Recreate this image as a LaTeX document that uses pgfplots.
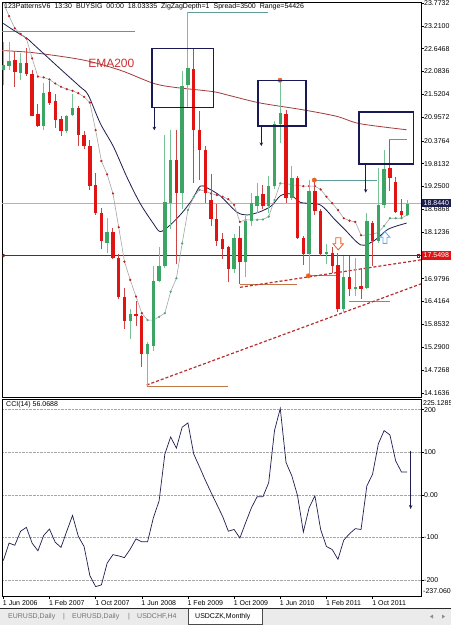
\documentclass[border=0pt]{standalone}
\usepackage{pgfplots}
\pgfplotsset{compat=1.18}
\usepackage{pgfplotstable}
\usepackage{fontspec}
\setmainfont{Liberation Sans}
\usetikzlibrary{arrows.meta}
\definecolor{upc}{RGB}{60,165,100}
\definecolor{upw}{RGB}{120,195,150}
\definecolor{dnc}{RGB}{225,20,20}
\definecolor{dnw}{RGB}{205,70,70}
\definecolor{ema}{RGB}{160,60,60}
\definecolor{emat}{RGB}{205,50,50}
\definecolor{navyl}{RGB}{30,30,80}
\definecolor{boxc}{RGB}{25,25,85}
\definecolor{trend}{RGB}{185,45,45}
\definecolor{hline}{RGB}{140,25,25}
\definecolor{orl}{RGB}{190,120,70}
\definecolor{tealc}{RGB}{95,155,155}
\definecolor{dotr}{RGB}{190,30,30}
\definecolor{dotg}{RGB}{70,170,110}
\definecolor{orng}{RGB}{240,95,30}
\definecolor{lblue}{RGB}{100,170,230}
\newcommand\tf{\fontsize{7bp}{8bp}\selectfont}

\pgfplotstableread{
m O H L C
0 22.13 22.82 21.76 22.25
1 22.23 22.82 22.13 22.35
3 22.06 22.54 21.88 22.29
7 20.75 21.80 20.64 21.55
11 20.61 21.02 20.56 21.00
12 21.02 21.54 20.98 21.19
18 17.87 18.48 17.62 18.13
22 15.94 16.23 15.49 16.11
25 15.12 15.41 14.34 15.37
26 15.33 17.29 15.20 16.93
27 16.93 17.75 16.90 17.29
28 17.29 20.53 17.25 18.87
29 18.85 20.65 18.20 19.91
31 19.10 22.09 18.70 21.72
32 21.76 23.55 21.22 22.17
40 17.21 18.07 17.13 17.99
42 17.38 18.52 17.01 18.40
43 18.40 19.10 18.28 18.85
44 18.77 19.34 18.60 19.01
46 18.77 19.50 18.60 19.26
47 19.26 20.86 19.20 20.78
48 20.78 21.92 20.33 21.06
50 18.97 19.75 18.93 19.46
53 17.58 19.42 17.07 19.14
56 17.58 17.83 17.34 17.63
59 16.23 17.54 16.15 17.01
61 16.72 17.50 16.56 16.78
63 16.76 18.60 16.72 18.40
65 17.91 19.71 17.87 18.79
66 18.79 20.16 18.73 19.69
70 18.56 18.93 18.52 18.82
}\upcandles

\pgfplotstableread{
m O H L C
2 22.37 22.58 21.70 22.07
4 22.29 22.66 21.98 22.03
5 22.03 22.13 20.98 21.00
6 21.05 21.29 20.72 20.75
8 21.57 21.84 21.27 21.32
9 21.35 21.54 20.69 20.90
10 20.92 20.98 20.49 20.61
13 21.19 21.24 20.26 20.53
14 20.53 20.61 20.18 20.24
15 20.26 20.40 19.17 19.26
16 19.30 19.59 18.56 18.61
17 18.61 18.73 17.70 17.91
19 18.13 18.24 17.46 17.50
20 17.50 17.58 16.47 16.52
21 16.52 16.76 15.74 15.94
23 16.11 16.43 15.82 16.05
24 16.05 16.08 14.80 15.12
30 19.91 20.65 17.35 19.10
33 22.14 22.66 19.35 20.65
34 20.65 21.10 19.42 20.16
35 20.16 20.24 18.85 19.10
36 18.93 19.55 18.28 18.44
37 18.46 18.81 17.78 17.91
38 17.97 18.11 17.46 17.70
39 17.75 17.78 16.89 17.21
41 17.99 18.28 16.84 17.38
45 19.06 19.30 18.69 18.77
49 21.04 21.13 18.85 18.97
51 19.46 19.50 17.95 17.99
52 17.99 18.03 17.32 17.58
54 19.14 19.42 18.56 18.64
55 18.64 18.69 17.54 17.58
57 17.62 17.75 17.11 17.29
58 17.32 17.62 16.15 16.23
60 17.01 17.54 16.56 16.72
62 16.79 17.25 16.48 16.73
64 18.36 18.40 17.29 17.91
67 19.71 20.41 19.14 19.46
68 19.36 19.49 18.60 18.62
69 18.64 18.95 18.48 18.54
}\dncandles

\begin{document}
\begin{tikzpicture}
\path[use as bounding box, fill=white] (0,0) rectangle (451bp,-625bp);

% ================= MAIN PRICE PANEL =================
\begin{axis}[
  at={(2bp,-2bp)}, anchor=north west, scale only axis,
  width=419bp, height=395bp,
  xmin=-0.225, xmax=72.39, ymin=14.065, ymax=23.798,
  axis line style={line width=0.8bp, black},
  xtick=\empty,
  ytick={23.7732,23.21,22.6468,22.0836,21.5204,20.9572,20.3764,19.8132,19.25,18.6868,18.1236,16.9796,16.4164,15.8532,15.29,14.7268,14.1636},
  yticklabels={23.7732,23.2100,22.6468,22.0836,21.5204,20.9572,20.3764,19.8132,19.2500,18.6868,18.1236,16.9796,16.4164,15.8532,15.2900,14.7268,14.1636},
  ytick pos=right, yticklabel pos=right,
  tick align=outside, major tick length=3bp,
  tick style={black, line width=0.5bp},
  yticklabel style={font=\tf, anchor=west, inner sep=0pt, xshift=0bp, text=black},
  clip mode=individual,
]
% horizontal reference lines
\addplot[black!30, line width=0.8bp] coordinates {(-0.225,18.844) (72.39,18.844)};
\addplot[hline, line width=0.9bp] coordinates {(-0.225,17.5498) (72.39,17.5498)};
% brown horizontal levels
\addplot[orl, line width=0.9bp] coordinates {(-0.3,23.083) (22.8,23.083)};
\addplot[orl, line width=0.9bp] coordinates {(24.85,14.336) (39.0,14.336)};
\addplot[orl, line width=0.9bp] coordinates {(41.0,16.85) (50.95,16.85)};
\addplot[orl, line width=0.9bp] coordinates {(52.86,17.05) (57.83,17.05)};
\addplot[orl, line width=0.9bp] coordinates {(59.96,16.42) (67.0,16.42)};
% dashed trend lines
\addplot[trend, line width=1.2bp, dash pattern=on 3bp off 2bp] coordinates {(41.02,16.768) (72.39,17.445)};
\addplot[trend, line width=1.2bp, dash pattern=on 3bp off 2bp] coordinates {(24.85,14.361) (72.39,16.853)};
% teal pattern lines
\addplot[tealc, line width=0.8bp] coordinates {(32.0,23.55) (45.9,23.55)};
\addplot[tealc, line width=0.8bp] coordinates {(54.0,19.40) (64.75,19.40)};
\addplot[tealc, line width=0.8bp] coordinates {(66.9,20.41) (69.9,20.41)};

% EMA200
\addplot[ema, line width=0.8bp, smooth] coordinates {
(-0.2,22.60) (5.15,22.55) (13.8,22.37) (20.2,22.12) (25.9,21.80) (29.4,21.70)
(36.3,21.59) (39.3,21.49) (44.5,21.31) (52,21.14) (57.8,20.98) (61.8,20.80) (69.9,20.65)};
% slow MA (navy)
\addplot[navyl, line width=0.8bp, smooth] coordinates {
(0,23.27) (1.7,23.11) (4.1,22.90) (5.2,22.76) (9.8,22.16) (13.3,21.71) (14.7,21.51)
(16.8,20.81) (19.1,20.23) (21.4,19.49) (23.7,18.84) (26.0,18.34) (27.2,18.14) (28.9,18.30)
(30.9,18.59) (32.7,18.92) (34.1,19.26) (35.3,19.22) (37.6,19.02) (40.4,18.63) (42.2,18.55)
(44.5,18.63) (46.5,18.78) (48.0,19.02) (49.7,19.07) (51.5,18.86) (54.9,18.80) (57.5,18.43)
(59.2,18.19) (62.0,17.81) (64.4,17.93) (66.7,18.20) (69.9,18.35)};
% fast line (gray)
\addplot[black!35, line width=0.6bp] coordinates {
(0,23.78) (1,23.45) (2,23.15) (3,23.01) (4,22.90) (5,22.41) (6,21.96) (7,21.94) (8,21.89)
(9,21.79) (10,21.71) (11,21.65) (12,21.61) (13,21.55) (14,21.46) (15,21.32) (16,20.64)
(17,19.88) (18,19.55) (19,19.08) (20,18.25) (21,17.40) (22,16.95) (23,16.54) (24,16.13)
(25,15.96) (26,15.96) (27,16.04) (28,16.13) (29,16.66) (30,16.99) (31,17.85) (32,18.67)
(33,19.00) (34,19.17) (35,19.14) (36,19.08) (37,19.04) (38,19.00) (39,18.94) (40,18.80)
(41,18.38) (42,18.43) (43,18.43) (44,18.43) (45,18.44) (46,18.51) (47,18.92) (48,19.33)
(49,19.33) (50,19.29) (51,19.28) (52,19.26) (53,19.26) (54,19.26) (55,19.18) (56,19.00)
(57,18.84) (58,18.67) (59,18.47) (60,18.41) (61,18.38) (62,18.05) (63,18.05) (64,18.08)
(65,18.12) (66,18.28) (67,18.47) (68,18.47) (69,18.47) (70,18.55)};
\addplot[only marks, mark=*, mark size=0.9bp, dotr] coordinates {
(1,23.45) (2,23.15) (3,23.01) (4,22.90) (5,22.41) (6,21.96) (7,21.94) (8,21.89)
(9,21.79) (10,21.71) (11,21.65) (12,21.61) (13,21.55) (14,21.46) (15,21.32) (16,20.64)
(17,19.88) (18,19.55) (19,19.08) (20,18.25) (21,17.40) (22,16.95) (23,16.54) (24,16.13)
(35,19.14) (36,19.08) (37,19.04) (38,19.00) (39,18.94) (40,18.80) (41,18.38)
(49,19.33) (50,19.29) (51,19.28) (52,19.26) (53,19.26) (54,19.26) (55,19.18) (56,19.00)
(57,18.84) (58,18.67) (59,18.47) (60,18.41) (61,18.38) (62,18.05) (63,18.05) (64,18.08)};
\addplot[only marks, mark=*, mark size=0.9bp, dotg] coordinates {
(25,15.96) (26,15.96) (27,16.04) (28,16.13) (29,16.66) (30,16.99) (31,17.85) (32,18.67)
(33,19.00) (34,19.17) (42,18.43) (43,18.43) (44,18.43) (45,18.44) (46,18.51) (47,18.92) (48,19.33)
(65,18.12) (66,18.28) (67,18.47) (68,18.47) (69,18.47) (70,18.55)};

% candles: wicks
\addplot[draw=none, mark=none, forget plot,
  error bars/.cd, y dir=plus, y explicit, error mark=none,
  error bar style={draw=upw, line width=1bp}]
  table[x=m, y=L, y error expr=\thisrow{H}-\thisrow{L}] {\upcandles};
\addplot[draw=none, mark=none, forget plot,
  error bars/.cd, y dir=plus, y explicit, error mark=none,
  error bar style={draw=dnw, line width=1bp}]
  table[x=m, y=L, y error expr=\thisrow{H}-\thisrow{L}] {\dncandles};
% candles: bodies
\addplot[draw=none, mark=none, forget plot,
  error bars/.cd, y dir=plus, y explicit, error mark=none,
  error bar style={draw=upc, line width=3.4bp}]
  table[x=m, y=O, y error expr=\thisrow{C}-\thisrow{O}] {\upcandles};
\addplot[draw=none, mark=none, forget plot,
  error bars/.cd, y dir=plus, y explicit, error mark=none,
  error bar style={draw=dnc, line width=3.4bp}]
  table[x=m, y=C, y error expr=\thisrow{O}-\thisrow{C}] {\dncandles};

% orange pivot dots
\addplot[only marks, mark=*, mark size=2.2bp, orng] coordinates {(47.96,21.87) (53.9,19.41) (52.86,17.05)};

% pattern boxes and arrows
\draw[boxc, line width=1.6bp] (axis cs:25.72,22.657) rectangle (axis cs:36.4,21.194);
\draw[boxc, line width=1.1bp, -{Stealth[length=3.5bp,width=3.5bp]}] (axis cs:26.17,21.194) -- (axis cs:26.17,20.64);
\draw[boxc, line width=1.6bp] (axis cs:44.19,21.859) rectangle (axis cs:52.41,20.743);
\draw[boxc, line width=1.1bp, -{Stealth[length=3.5bp,width=3.5bp]}] (axis cs:44.71,20.743) -- (axis cs:44.71,20.25);
\draw[boxc, line width=1.6bp] (axis cs:61.65,21.095) rectangle (axis cs:71.06,19.806);
\draw[boxc, line width=1.1bp, -{Stealth[length=3.5bp,width=3.5bp]}] (axis cs:62.81,19.806) -- (axis cs:62.81,19.10);

% hollow arrows
\draw[orng, line width=0.8bp, fill=white] (axis cs:57.6,17.99) -- (axis cs:58.5,17.99) -- (axis cs:58.5,17.84) -- (axis cs:58.95,17.84) -- (axis cs:58.05,17.69) -- (axis cs:57.15,17.84) -- (axis cs:57.6,17.84) -- cycle;
\draw[lblue, line width=0.8bp, fill=white] (axis cs:65.8,17.85) -- (axis cs:66.5,17.85) -- (axis cs:66.5,18.0) -- (axis cs:67.0,18.0) -- (axis cs:66.15,18.14) -- (axis cs:65.3,18.0) -- (axis cs:65.8,18.0) -- cycle;

% end markers on red level
\draw[hline, line width=0.6bp] (axis cs:0.05,17.5498) circle (1.4bp);
\draw[hline, line width=0.6bp] (axis cs:71.9,17.5498) ++(-1.3bp,-1.3bp) rectangle ++(2.6bp,2.6bp);

% EMA200 label
\node[anchor=west, text=emat, font=\fontsize{12bp}{12bp}\selectfont, inner sep=0pt] at (axis cs:14.7,22.29) {EMA200};

% highlighted price labels
\node[anchor=west, fill=navyl, text=white, font=\tf, inner sep=0pt, minimum height=8.5bp, text width=30bp, align=left, xshift=0.5bp] at (axis cs:72.39,18.844) {\hspace{2bp}18.8440};
\node[anchor=west, fill=dnc, text=white, font=\tf, inner sep=0pt, minimum height=8.5bp, text width=30bp, align=left, xshift=0.5bp] at (axis cs:72.39,17.5498) {\hspace{2bp}17.5498};
\end{axis}

% ================= CCI PANEL =================
\begin{axis}[
  at={(2bp,-399bp)}, anchor=north west, scale only axis,
  width=419bp, height=197bp,
  xmin=-0.225, xmax=72.39, ymin=-237.06, ymax=225.1285,
  axis line style={line width=0.8bp, black},
  xtick={0,8,16,24,32,40,48,56,64},
  xticklabels={1 Jun 2006,1 Feb 2007,1 Oct 2007,1 Jun 2008,1 Feb 2009,1 Oct 2009,1 Jun 2010,1 Feb 2011,1 Oct 2011},
  xticklabel style={font=\tf, anchor=north west, inner sep=0pt, xshift=-0.5bp, yshift=-1.5bp},
  ytick={-200,-100,0,100,200}, yticklabels={-200,-100,0.00,100,200},
  ytick pos=right, yticklabel pos=right, xtick pos=bottom,
  tick align=outside, major tick length=3bp,
  tick style={black, line width=0.5bp},
  yticklabel style={font=\tf, anchor=west, inner sep=0pt, text=black},
  ymajorgrids, grid style={densely dotted, black!35, line width=0.5bp},
  clip mode=individual,
]
\addplot[navyl, line width=0.7bp] coordinates {
(0,-154) (1,-113) (2,-118) (3,-85) (4,-76) (5,-113) (6,-131) (7,-95) (8,-80) (9,-111)
(10,-123) (11,-85) (12,-48) (13,-97) (14,-121) (15,-189) (16,-215) (17,-211) (18,-160) (19,-140)
(20,-143) (21,-147) (22,-127) (23,-103) (24,-110) (25,-110) (26,-54) (27,-14) (28,96) (29,136)
(30,110) (31,159) (32,169) (33,96) (34,66) (35,35) (36,6) (37,-22) (38,-50) (39,-85)
(40,-81) (41,-101) (42,-65) (43,-30) (44,-4) (45,-4) (46,29) (47,151) (48,203) (49,76)
(50,45) (51,-2) (52,-87) (53,-30) (54,-2) (55,-81) (56,-121) (57,-128) (58,-151) (59,-106)
(60,-91) (61,-79) (62,-81) (63,21) (64,49) (65,120) (66,151) (67,141) (68,80) (69,54) (70,54)};
\draw[navyl, line width=1.1bp, -{Stealth[length=4bp,width=3.5bp]}] (axis cs:70.6,104) -- (axis cs:70.6,-33);
\node[anchor=west, font=\tf, inner sep=0pt] at (axis cs:72.39,215) {\hspace{2bp}225.1285};
\node[anchor=west, font=\tf, inner sep=0pt] at (axis cs:72.39,-226) {\hspace{2bp}-237.060};
\end{axis}

% header texts
\node[anchor=west, font=\tf, inner sep=0pt] at (4bp,-6.5bp) {123PatternsV6\hspace{4bp}13:30\hspace{4bp}BUYSIG\hspace{4bp}00:00\hspace{4bp}18.03335\hspace{4bp}ZigZagDepth=1\hspace{4bp}Spread=3500\hspace{4bp}Range=54426};
\node[anchor=west, font=\tf, inner sep=0pt] at (6bp,-405bp) {CCI(14) 56.0688};

% tab bar
\fill[black!8] (0,-608.5bp) rectangle (451bp,-625bp);
\draw[black!85, line width=0.8bp] (0,-608.5bp) -- (451bp,-608.5bp);
\fill[white] (188bp,-608.5bp) rectangle (262bp,-624.5bp);
\draw[black!70, line width=0.6bp] (188bp,-608.5bp) -- (188bp,-624.5bp) -- (262bp,-624.5bp) -- (262bp,-608.5bp);
\node[anchor=west, font=\tf, text=black!55, inner sep=0pt] at (8bp,-616.5bp) {EURUSD,Daily};
\node[anchor=west, font=\tf, text=black!55, inner sep=0pt] at (63bp,-616.5bp) {|};
\node[anchor=west, font=\tf, text=black!55, inner sep=0pt] at (72bp,-616.5bp) {EURUSD,Daily};
\node[anchor=west, font=\tf, text=black!55, inner sep=0pt] at (128bp,-616.5bp) {|};
\node[anchor=west, font=\tf, text=black!55, inner sep=0pt] at (137bp,-616.5bp) {USDCHF,H4};
\node[anchor=west, font=\tf, text=black, inner sep=0pt] at (195bp,-616.5bp) {USDCZK,Monthly};
\fill[black!45] (430bp,-616.5bp) -- (433bp,-614.5bp) -- (433bp,-618.5bp) -- cycle;
\fill[black!45] (445bp,-616.5bp) -- (442bp,-614.5bp) -- (442bp,-618.5bp) -- cycle;
\end{tikzpicture}
\end{document}
